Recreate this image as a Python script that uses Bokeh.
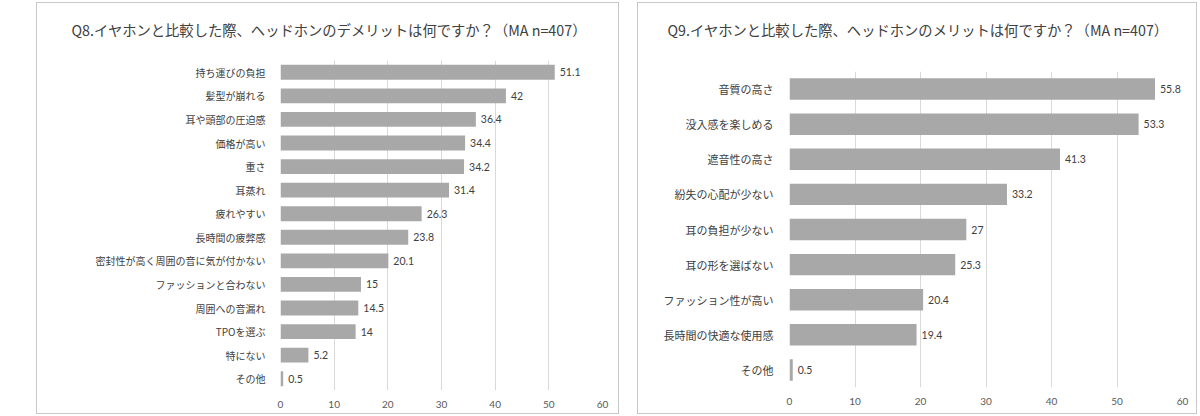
from bokeh.plotting import figure
from bokeh.models import ColumnDataSource, FactorRange, Range1d, FixedTicker, Title, Spacer
from bokeh.layouts import row, column
from bokeh.core.properties import value
from bokeh.embed import file_html
from bokeh.resources import INLINE

q8_title = "Q8.イヤホンと比較した際、ヘッドホンのデメリットは何ですか？（MA n=407）"
q8_categories = ["持ち運びの負担", "髪型が崩れる", "耳や頭部の圧迫感", "価格が高い", "重さ", "耳蒸れ",
                 "疲れやすい", "長時間の疲弊感", "密封性が高く周囲の音に気が付かない", "ファッションと合わない",
                 "周囲への音漏れ", "TPOを選ぶ", "特にない", "その他"]
q8_values = [51.1, 42, 36.4, 34.4, 34.2, 31.4, 26.3, 23.8, 20.1, 15, 14.5, 14, 5.2, 0.5]

q9_title = "Q9.イヤホンと比較した際、ヘッドホンのメリットは何ですか？（MA n=407）"
q9_categories = ["音質の高さ", "没入感を楽しめる", "遮音性の高さ", "紛失の心配が少ない", "耳の負担が少ない",
                 "耳の形を選ばない", "ファッション性が高い", "長時間の快適な使用感", "その他"]
q9_values = [55.8, 53.3, 41.3, 33.2, 27, 25.3, 20.4, 19.4, 0.5]

x_ticks = [0, 10, 20, 30, 40, 50, 60]

JP = "Noto Sans CJK JP"
NUM = "Lato"


def make_panel(title, cats, vals, width, b_left, b_right, b_bottom, spacer_standoff, title_offset,
               cat_size, bar_h, cat_standoff):
    src = ColumnDataSource(dict(cat=cats, val=vals, lab=[f"{v:g}" for v in vals]))
    p = figure(width=width, height=412,
               y_range=FactorRange(factors=list(reversed(cats))),
               x_range=Range1d(0, 60),
               output_backend="svg", toolbar_location=None,
               min_border_left=b_left, min_border_right=b_right,
               min_border_bottom=b_bottom, min_border_top=0,
               styles={"border": "1px solid #c8c8c8"})
    p.frame_align = False
    p.outline_line_color = None
    p.background_fill_color = "white"
    p.border_fill_color = "white"
    p.add_layout(Title(text=" ", text_font_size="1px", standoff=spacer_standoff), "above")
    p.add_layout(Title(text=title, align="left", offset=title_offset, vertical_align="top",
                       standoff=31, text_font_size="14.3px", text_font=JP,
                       text_font_style="normal", text_color="#404040"), "above")

    p.hbar(y="cat", right="val", left=0, height=bar_h, source=src,
           fill_color="#a8a8a8", line_color=None)
    p.text(x="val", y="cat", text="lab", source=src, x_offset=5,
           text_baseline="middle", text_align="left", text_font_size="10.5px",
           text_font=value(NUM), text_color="#404040")

    p.xaxis.ticker = FixedTicker(ticks=x_ticks)
    p.xaxis.axis_line_color = None
    p.xaxis.major_tick_line_color = None
    p.xaxis.minor_tick_line_color = None
    p.xaxis.major_label_standoff = 4
    p.xaxis.major_label_text_font = NUM
    p.xaxis.major_label_text_font_size = "10px"
    p.xaxis.major_label_text_color = "#595959"

    p.yaxis.axis_line_color = None
    p.yaxis.major_tick_line_color = None
    p.yaxis.minor_tick_line_color = None
    p.yaxis.major_label_standoff = cat_standoff
    p.yaxis.major_label_text_font = JP
    p.yaxis.major_label_text_font_size = cat_size
    p.yaxis.major_label_text_color = "#404040"

    p.xgrid.grid_line_color = "#d9d9d9"
    p.ygrid.grid_line_color = None
    return p


p1 = make_panel(q8_title, q8_categories, q8_values, 583, 243, 18, 25, 0, -209, "10px", 0.63, 9)
p2 = make_panel(q9_title, q9_categories, q9_values, 560, 151, 16, 28, 11, -122, "11px", 0.61, 10)

layout = column(Spacer(width=10, height=2),
                row(Spacer(width=36, height=412), p1, Spacer(width=18, height=412), p2))

open("out.html", "w").write(file_html(layout, INLINE))
